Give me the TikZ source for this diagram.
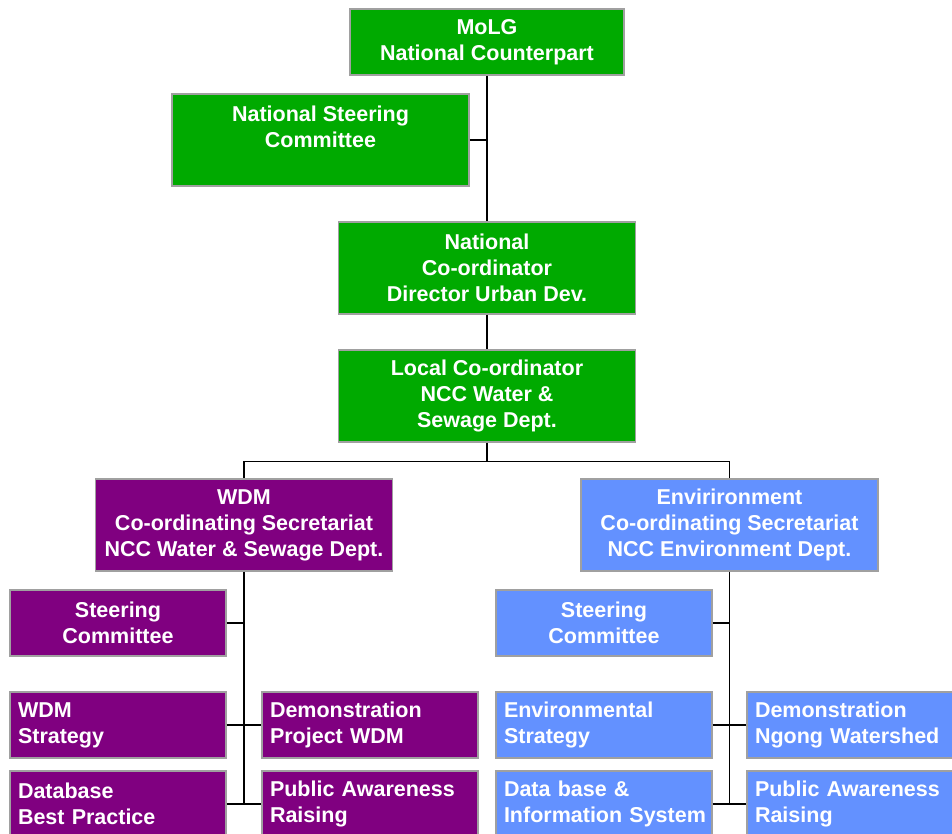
\documentclass[tikz,border=0pt]{standalone}
\usepackage{fontspec}
\setmainfont{Liberation Sans}
\definecolor{cgreen}{HTML}{00AA00}
\definecolor{cpurple}{HTML}{800080}
\definecolor{cblue}{HTML}{6391FF}
\definecolor{cborder}{HTML}{A0A0A0}
\begin{document}
\begin{tikzpicture}[x=1pt,y=-1pt,
  box/.style={draw=cborder, line width=1.3pt, text=white, inner sep=0pt,
    font=\fontsize{21.5}{26}\selectfont\bfseries, align=center},
  big/.style={box, minimum width=297pt, minimum height=92pt},
  small/.style={box, minimum width=216pt, minimum height=66pt},
  smallleft/.style={box, minimum height=66pt, text width=200pt, inner xsep=8pt, align=left},
  link/.style={draw=black, line width=1.3pt}]
\useasboundingbox (0,0) rectangle (952,834);
\fill[white] (0,0) rectangle (952,834);
\node[box, fill=cgreen, minimum width=274pt, minimum height=66pt] (molg) at (487,42) {MoLG\\National Counterpart};
\node[big, fill=cgreen] (nsc) at (320.5,140) {National Steering\\Committee\\~};
\node[big, fill=cgreen] (natc) at (487,268) {National\\Co-ordinator\\Director Urban Dev.};
\node[big, fill=cgreen] (locc) at (487,396) {Local Co-ordinator\\NCC Water \&\\Sewage Dept.};
\node[big, fill=cpurple] (wdm) at (244,525) {WDM\\Co-ordinating Secretariat\\NCC Water \& Sewage Dept.};
\node[big, fill=cblue] (env) at (729.5,525) {Envirironment\\Co-ordinating Secretariat\\NCC Environment Dept.};
\node[small, fill=cpurple] (lsc) at (118,623) {Steering\\Committee};
\node[smallleft, fill=cpurple] (lstr) at (118,725) {WDM\\Strategy};
\node[smallleft, fill=cpurple] (ldemo) at (370,725) {Demonstration\\Project WDM};
\node[smallleft, fill=cpurple] (ldb) at (118,804) {Database\\Best Practice};
\node[smallleft, fill=cpurple] (lpub) at (370,804) {Public Awareness\\Raising};
\node[small, fill=cblue] (rsc) at (604,623) {Steering\\Committee};
\node[smallleft, fill=cblue] (rstr) at (604,725) {Environmental\\Strategy};
\node[smallleft, fill=cblue] (rdemo) at (855,725) {Demonstration\\Ngong Watershed};
\node[smallleft, fill=cblue] (rdb) at (604,804) {Data base \&\\\mbox{Information System}};
\node[smallleft, fill=cblue] (rpub) at (855,804) {Public Awareness\\Raising};
\draw[link] (molg.south) -- (natc.north);
\draw[link] (nsc.east) -- (nsc.east -| molg.south);
\draw[link] (natc.south) -- (locc.north);
\draw[link] (locc.south) -- ++(0,19) coordinate (bus) -| (wdm.north);
\draw[link] (bus) -| (env.north);
\draw[link] (wdm.south) -- (wdm.south |- ldb.east);
\draw[link] (lsc.east) -- (lsc.east -| wdm.south);
\draw[link] (lstr.east) -- (ldemo.west);
\draw[link] (ldb.east) -- (lpub.west);
\draw[link] (env.south) -- (env.south |- rdb.east);
\draw[link] (rsc.east) -- (rsc.east -| env.south);
\draw[link] (rstr.east) -- (rdemo.west);
\draw[link] (rdb.east) -- (rpub.west);
\end{tikzpicture}
\end{document}
